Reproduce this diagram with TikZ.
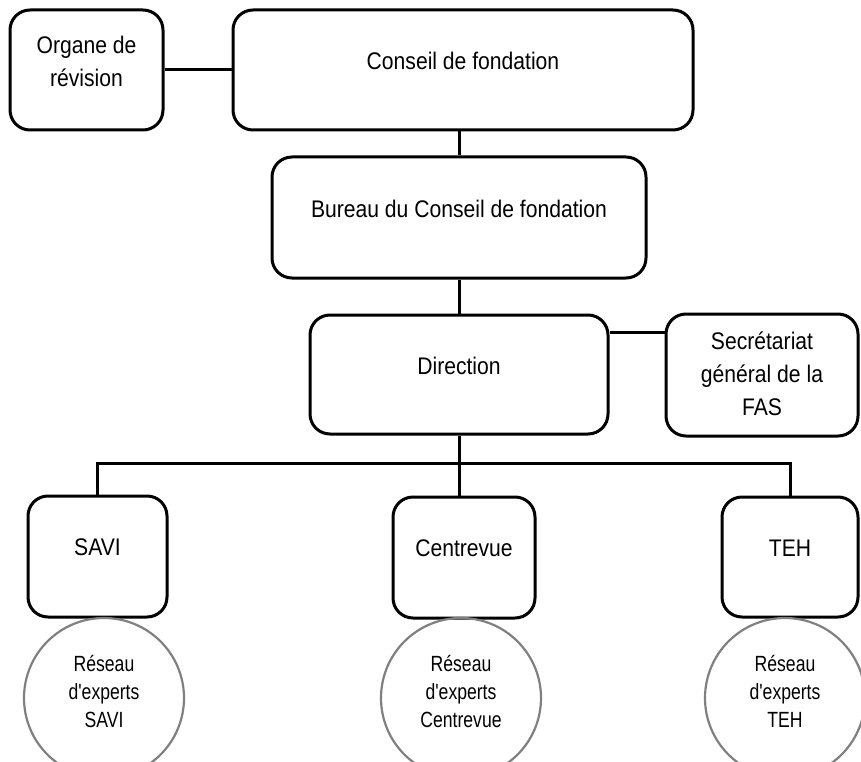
\documentclass[tikz,border=0pt]{standalone}
\usepackage{fontspec}
\setmainfont{Liberation Sans}
\newfontfamily\unitfont{Liberation Sans}[FakeStretch=0.88]
\newfontfamily\ringfont{Liberation Sans}[FakeStretch=0.8]
\tikzstyle{unit} = [rectangle, rounded corners=20pt, draw=black, line width=3pt, fill=white, inner sep=0pt]
\tikzstyle{unittext} = [align=center, font=\unitfont\fontsize{24}{33}\selectfont, yshift=9pt]
\tikzstyle{network} = [circle, draw=black!50, line width=2.2pt, minimum size=160pt, inner sep=0pt]
\tikzstyle{networktext} = [align=center, font=\ringfont\fontsize{22}{28}\selectfont, yshift=7pt]
\tikzstyle{link} = [line width=3pt]

\begin{document}
\begin{tikzpicture}[x=1pt,y=-1pt]
        \useasboundingbox (0,0) rectangle (861,762);
        \clip (0,0) rectangle (861,762);

        % top level
        \node[unit, minimum width=153pt, minimum height=120pt,
              label={[unittext]center:{Organe de\\révision}}] (org) at (86.5,70) {};
        \node[unit, minimum width=460pt, minimum height=120pt,
              label={[unittext]center:Conseil de fondation}] (conseil) at (463,70) {};
        \node[unit, minimum width=374pt, minimum height=121pt,
              label={[unittext]center:Bureau du Conseil de fondation}] (bureau) at (459,217.5) {};
        \node[unit, minimum width=298pt, minimum height=119pt,
              label={[unittext]center:Direction}] (direction) at (459,374.5) {};
        \node[unit, minimum width=192pt, minimum height=122pt,
              label={[unittext, yshift=-8pt]center:{Secrétariat\\général de la\\FAS}}] (secr) at (762,375) {};

        % units
        \node[unit, minimum width=139pt, minimum height=121pt, label={[unittext]center:SAVI}] (savi) at (97.5,556.5) {};
        \node[unit, minimum width=142pt, minimum height=121pt, label={[unittext]center:Centrevue}] (centre) at (464,557.5) {};
        \node[unit, minimum width=136pt, minimum height=120pt, label={[unittext]center:TEH}] (teh) at (790,557) {};

        % expert networks
        \node[network, label={[networktext]center:{Réseau\\d'experts\\SAVI}}] (netsavi) at (104,698) {};
        \node[network, label={[networktext]center:{Réseau\\d'experts\\Centrevue}}] (netcentre) at (461,698) {};
        \node[network, label={[networktext]center:{Réseau\\d'experts\\TEH}}] (netteh) at (785,698) {};

        % links
        \draw[link] (org.east) -- (conseil.west);
        \draw[link] (bureau.north) -- (bureau.north |- conseil.south);
        \draw[link] (direction.north) -- (bureau.south);
        \coordinate (dirtap) at ([yshift=42pt]direction.east);
        \draw[link] (dirtap) -- (dirtap -| secr.west);

        \coordinate (bus) at (direction.south |- 0,463);
        \draw[link] (direction.south) -- (bus);
        \draw[link] (savi.north) |- (bus) -| (teh.north);
        \draw[link] (bus) -- (bus |- centre.north);
\end{tikzpicture}
\end{document}
